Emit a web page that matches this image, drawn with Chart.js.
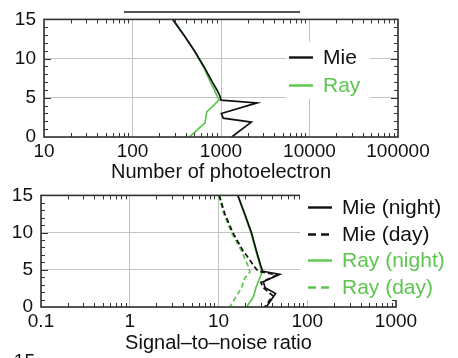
<html lang="en">
  <head>
    <meta charset="UTF-8" />
    <script src="https://cdn.jsdelivr.net/npm/chart.js"></script>
    <title>Mie / Rayleigh profiles</title>
    <style>
      body { margin: 0; width: 458px; height: 358px; overflow: hidden; background: #fff; position: relative; }
      canvas { position: absolute; left: 0; }
      #countChart { top: 0; }
      #snrChart { top: 176px; }
      .stray-line { position: absolute; left: 124px; top: 11px; width: 176px; border-top: 2px solid #555; }
      .stray-label { position: absolute; left: 0; top: 351px; width: 35px; text-align: right;
        font: 19px 'Liberation Sans', Arial, sans-serif; line-height: 19px; color: #111; }
    </style>
  </head>
  <body>
    <div class="stray-line"></div>
    <canvas id="countChart" width="458" height="184"></canvas>
    <canvas id="snrChart" width="458" height="182"></canvas>
    <div class="stray-label">15</div>
    <script>
        // upper panel: number of photoelectrons vs altitude (km)
        const mieAlt = [15, 13, 11, 9, 7, 6, 5.2, 4.7, 4.35, 3.0, 2.4, 1.9, 0];
        const mieCount = [285, 380, 500, 640, 800, 900, 975, 1000, 2550, 1010, 1060, 2200, 1320];
        const rayAlt = [15, 13, 11, 9, 7, 6, 4.7, 3.2, 1.8, 0];
        const rayCount = [285, 380, 500, 630, 760, 840, 950, 690, 660, 440];

        // lower panel: signal-to-noise ratio vs altitude (km)
        const mieNightAlt = [15, 12.5, 10, 7.5, 5.5, 4.8, 4.4, 3.4, 2.6, 1.8, 0];
        const mieNightSnr = [16.5, 19.8, 23.5, 26.8, 30, 31.5, 49, 32, 33.5, 44, 34.5];
        const mieDayAlt = [15, 12.5, 10, 7.5, 6.5, 5.5, 4.8, 4.3, 3.3, 2.6, 1.5, 0];
        const mieDaySnr = [10.2, 11.8, 14.5, 19, 22, 25, 28, 45, 30, 32, 41, 33];
        const rayNightAlt = [15, 12.5, 10, 7.5, 5.5, 4.7, 2.6, 1.3, 0];
        const rayNightSnr = [16.5, 19.5, 23.2, 26.5, 29.5, 31, 26.4, 24.6, 20.7];
        const rayDayAlt = [15, 12.5, 10, 7.5, 5.5, 4.7, 3.9, 2.6, 0];
        const rayDaySnr = [10, 11.5, 14, 18.2, 21.6, 22.6, 19.8, 18.2, 13.4];

        const countTicks = [10, 100, 1000, 10000, 100000];
        const snrTicks = [0.1, 1, 10, 100, 1000];
        const altTicks = [0, 5, 10, 15];

        const BLACK = '#111';
        const GREEN = '#5cc64e';
        const GRID = '#c4c4c4';
        const FONT = "'Liberation Sans', Arial, sans-serif";

        Chart.defaults.font.family = FONT;
        Chart.defaults.color = BLACK;

        function toPoints(alt, vals) {
            return alt.map((a, i) => ({ x: vals[i], y: a }));
        }

        function line(label, alt, vals, color, dashed) {
            return {
                label: label,
                data: toPoints(alt, vals),
                borderColor: color,
                borderWidth: 1.7,
                borderDash: dashed ? [5, 3] : [],
                showLine: true,
                pointRadius: 0,
                tension: 0
            };
        }

        // frame round the plot area plus small inward minor ticks
        const framePlugin = {
            id: 'frame',
            afterDatasetsDraw(chart) {
                const { ctx, chartArea: a, scales } = chart;
                const xs = scales.x, ys = scales.y;
                ctx.save();
                ctx.strokeStyle = '#333';
                ctx.lineWidth = 1;
                ctx.beginPath();
                const decades = xs.ticks.map(t => t.value);
                for (let i = 0; i < decades.length - 1; i++) {
                    for (let m = 2; m <= 9; m++) {
                        const px = Math.round(xs.getPixelForValue(decades[i] * m)) + 0.5;
                        ctx.moveTo(px, a.top); ctx.lineTo(px, a.top + 4);
                        ctx.moveTo(px, a.bottom); ctx.lineTo(px, a.bottom - 4);
                    }
                }
                for (let v = 1; v < 15; v++) {
                    const py = Math.round(ys.getPixelForValue(v)) + 0.5;
                    const len = v % 5 === 0 ? 7 : 4;
                    ctx.moveTo(a.left, py); ctx.lineTo(a.left + len, py);
                    ctx.moveTo(a.right, py); ctx.lineTo(a.right - len, py);
                }
                ctx.stroke();
                ctx.lineWidth = 1.6;
                ctx.strokeRect(a.left, a.top, a.right - a.left, a.bottom - a.top);
                ctx.restore();
            }
        };

        // legend with white box, line samples and coloured labels
        const boxLegend = {
            id: 'boxLegend',
            afterDraw(chart, args, o) {
                const ctx = chart.ctx;
                ctx.save();
                ctx.fillStyle = '#fff';
                ctx.fillRect(o.box[0], o.box[1], o.box[2], o.box[3]);
                ctx.font = '21px ' + FONT;
                ctx.textBaseline = 'middle';
                chart.data.datasets.forEach((ds, i) => {
                    const y = Math.round(o.y0 + i * o.dy) + 0.5;
                    ctx.strokeStyle = ds.borderColor;
                    ctx.lineWidth = 2.4;
                    ctx.setLineDash(ds.borderDash.length ? [8, 5] : []);
                    ctx.beginPath();
                    ctx.moveTo(o.x0, y);
                    ctx.lineTo(o.x1, y);
                    ctx.stroke();
                    ctx.setLineDash([]);
                    ctx.fillStyle = ds.borderColor;
                    ctx.fillText(ds.label, o.tx, y + 1);
                });
                ctx.restore();
            }
        };

        function makeOptions(cfg) {
            return {
                responsive: false,
                animation: false,
                devicePixelRatio: 1,
                layout: { padding: { top: cfg.padTop, right: cfg.padRight, left: 0, bottom: 0 } },
                plugins: {
                    legend: { display: false },
                    tooltip: { enabled: false },
                    boxLegend: cfg.legend
                },
                scales: {
                    x: {
                        type: 'logarithmic',
                        min: cfg.xTicks[0],
                        max: cfg.xTicks[cfg.xTicks.length - 1],
                        afterBuildTicks: s => { s.ticks = cfg.xTicks.map(v => ({ value: v })); },
                        afterFit: s => { s.height = cfg.xHeight; },
                        ticks: {
                            font: { size: 19 },
                            padding: 3,
                            maxRotation: 0,
                            autoSkip: false,
                            callback: v => String(v)
                        },
                        grid: { color: GRID, drawTicks: false },
                        border: { display: false },
                        title: {
                            display: true,
                            text: cfg.xTitle,
                            font: { size: 20 },
                            padding: { top: 0, bottom: cfg.titlePad }
                        }
                    },
                    y: {
                        min: 0,
                        max: 15,
                        afterBuildTicks: s => { s.ticks = altTicks.map(v => ({ value: v })); },
                        afterFit: s => { s.width = cfg.yWidth; },
                        ticks: { font: { size: 19 }, padding: 8 },
                        grid: { color: GRID, drawTicks: false },
                        border: { display: false }
                    }
                }
            };
        }

        new Chart(document.getElementById('countChart'), {
            type: 'scatter',
            data: {
                datasets: [
                    line('Mie', mieAlt, mieCount, BLACK, false),
                    line('Ray', rayAlt, rayCount, GREEN, false)
                ]
            },
            options: makeOptions({
                padTop: 19, padRight: 60, yWidth: 44, xHeight: 47,
                xTicks: countTicks, xTitle: 'Number of photoelectron', titlePad: 0,
                legend: { box: [286, 42, 84, 57], x0: 289, x1: 313, tx: 323, y0: 57, dy: 28 }
            }),
            plugins: [framePlugin, boxLegend]
        });

        new Chart(document.getElementById('snrChart'), {
            type: 'scatter',
            data: {
                datasets: [
                    line('Mie (night)', mieNightAlt, mieNightSnr, BLACK, false),
                    line('Mie (day)', mieDayAlt, mieDaySnr, BLACK, true),
                    line('Ray (night)', rayNightAlt, rayNightSnr, GREEN, false),
                    line('Ray (day)', rayDayAlt, rayDaySnr, GREEN, true)
                ]
            },
            options: makeOptions({
                padTop: 14, padRight: 62, yWidth: 41, xHeight: 51,
                xTicks: snrTicks, xTitle: 'Signal\u2013to\u2013noise ratio', titlePad: 3,
                legend: { box: [300, 18, 158, 106], x0: 308, x1: 332, tx: 342, y0: 31, dy: 26.7 }
            }),
            plugins: [framePlugin, boxLegend]
        });
      </script>
  </body>
</html>
